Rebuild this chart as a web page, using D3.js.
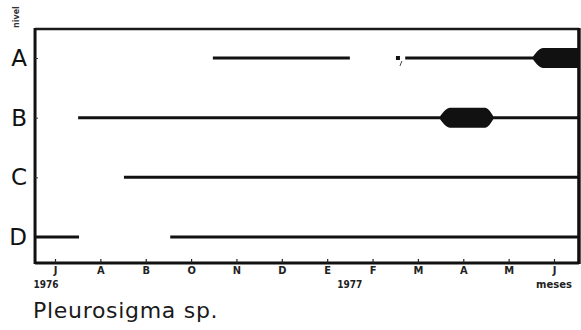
<!DOCTYPE html>
<html>
<head>
<meta charset="utf-8">
<script src="https://cdn.jsdelivr.net/npm/d3@7"></script>
<style>
  body { margin: 0; background: #fff; }
  svg { font-family: "DejaVu Sans", sans-serif; }
</style>
</head>
<body>
<div id="chart"></div>
<script>
// months Jul 1976 .. Jun 1977, index 0..11
var months = ["J", "A", "B", "O", "N", "D", "E", "F", "M", "A", "M", "J"];
var levels = ["A", "B", "C", "D"];
var years = [{label: "1976", m: -0.2}, {label: "1977", m: 6.5}];

// presence of Pleurosigma sp. per level (month units, start/end)
var segA = [[3.48, 6.5], [7.72, 11.55]];
var segB = [[0.51, 11.55]];
var segC = [[1.52, 11.55]];
var segD = [[-0.44, 0.53], [2.54, 11.55]];
var dotsA = [7.56];

// high abundance blobs: taper start, full start, full end, taper end
var blobA = [10.54, 10.76, 11.55, 11.55];
var blobB = [8.49, 8.71, 9.48, 9.66];

var width = 581, height = 330;
var domainX = [-0.44, 11.55];

var x = d3.scaleLinear().domain([0, 11]).range([55, 554]);
var y = d3.scalePoint().domain(levels).range([58, 237]);

var plotLeft = x(domainX[0]), plotRight = x(domainX[1]);
var plotTop = 29, plotBottom = 263;

var svg = d3.select("#chart").append("svg")
  .attr("width", width)
  .attr("height", height);

// frame
svg.append("line")
  .attr("x1", plotLeft).attr("x2", plotRight).attr("y1", plotTop).attr("y2", plotTop)
  .attr("stroke", "#1a1a1a").attr("stroke-width", 2.5);
svg.append("line")
  .attr("x1", plotLeft).attr("x2", plotRight).attr("y1", plotBottom).attr("y2", plotBottom)
  .attr("stroke", "#111").attr("stroke-width", 3);
svg.append("line")
  .attr("x1", plotLeft).attr("x2", plotLeft).attr("y1", plotTop - 1).attr("y2", plotBottom + 1)
  .attr("stroke", "#111").attr("stroke-width", 3);
svg.append("line")
  .attr("x1", plotRight).attr("x2", plotRight).attr("y1", plotTop - 1).attr("y2", plotBottom + 1)
  .attr("stroke", "#111").attr("stroke-width", 3.5);

// x axis
var xAxis = d3.axisBottom(x)
  .tickValues(d3.range(months.length))
  .tickFormat(function(d) { return months[d]; })
  .tickSize(-4)
  .tickPadding(3);
var gx = svg.append("g")
  .attr("transform", "translate(0," + plotBottom + ")")
  .call(xAxis);
gx.select(".domain").remove();
gx.selectAll(".tick line").attr("stroke", "#222").attr("stroke-width", 1.2);
gx.selectAll(".tick text")
  .attr("font-size", 11).attr("font-weight", "bold").attr("fill", "#222")
  .attr("font-family", "DejaVu Sans Condensed, DejaVu Sans, sans-serif");

// y axis
var yAxis = d3.axisLeft(y).tickSize(-3).tickPadding(8);
var gy = svg.append("g")
  .attr("transform", "translate(" + plotLeft + ",0)")
  .call(yAxis);
gy.select(".domain").remove();
gy.selectAll(".tick line").attr("stroke", "#333").attr("stroke-width", 1);
gy.selectAll(".tick text")
  .attr("font-size", 23).attr("fill", "#111")
  .attr("font-family", "DejaVu Sans, sans-serif");

// years
svg.selectAll(".year").data(years).enter().append("text")
  .attr("x", function(d) { return x(d.m); })
  .attr("y", 288)
  .attr("text-anchor", "middle")
  .attr("font-size", 10).attr("font-weight", "bold").attr("fill", "#222")
  .attr("font-family", "DejaVu Sans Condensed, DejaVu Sans, sans-serif")
  .text(function(d) { return d.label; });

svg.append("text")
  .attr("x", x(11)).attr("y", 288)
  .attr("text-anchor", "middle")
  .attr("font-size", 10).attr("font-weight", "bold").attr("fill", "#222")
  .attr("font-family", "DejaVu Sans, sans-serif")
  .text("meses");

svg.append("text")
  .attr("transform", "translate(19,28) rotate(-90)")
  .attr("font-size", 8).attr("font-weight", "bold").attr("fill", "#333")
  .text("nivel");

svg.append("text")
  .attr("x", 33).attr("y", 318)
  .attr("font-size", 22).attr("fill", "#1a1a1a")
  .attr("letter-spacing", 0.7)
  .attr("font-family", "DejaVu Sans, sans-serif")
  .text("Pleurosigma sp.");

// presence lines
var rows = [
  {level: "A", segs: segA},
  {level: "B", segs: segB},
  {level: "C", segs: segC},
  {level: "D", segs: segD}
];
rows.forEach(function(r) {
  svg.selectAll(null).data(r.segs).enter().append("line")
    .attr("x1", function(d) { return x(d[0]); })
    .attr("x2", function(d) { return x(d[1]); })
    .attr("y1", y(r.level)).attr("y2", y(r.level))
    .attr("stroke", "#111").attr("stroke-width", 3);
});

svg.selectAll(".dot").data(dotsA).enter().append("rect")
  .attr("x", function(d) { return x(d) - 2; })
  .attr("y", y("A") - 2)
  .attr("width", 4).attr("height", 4)
  .attr("fill", "#111");
svg.append("line")
  .attr("x1", x(dotsA[0]) + 4).attr("y1", y("A") + 3)
  .attr("x2", x(dotsA[0]) + 2).attr("y2", y("A") + 8)
  .attr("stroke", "#444").attr("stroke-width", 1);

// blobs
var area = d3.area()
  .x(function(d) { return x(d.t); })
  .y0(function(d) { return d.c - d.h; })
  .y1(function(d) { return d.c + d.h; })
  .curve(d3.curveMonotoneX);

function blobPts(b, level) {
  var c = y(level);
  var pts = [
    {t: b[0], h: 1.5, c: c},
    {t: (b[0] + b[1]) / 2, h: 7.5, c: c},
    {t: b[1], h: 10, c: c},
    {t: b[2], h: 10, c: c}
  ];
  if (b[3] > b[2]) {
    pts.push({t: (b[2] + b[3]) / 2, h: 7.5, c: c});
    pts.push({t: b[3], h: 1.5, c: c});
  }
  return pts;
}

svg.append("path").datum(blobPts(blobA, "A")).attr("d", area).attr("fill", "#111");
svg.append("path").datum(blobPts(blobB, "B")).attr("d", area).attr("fill", "#111");
</script>
</body>
</html>
